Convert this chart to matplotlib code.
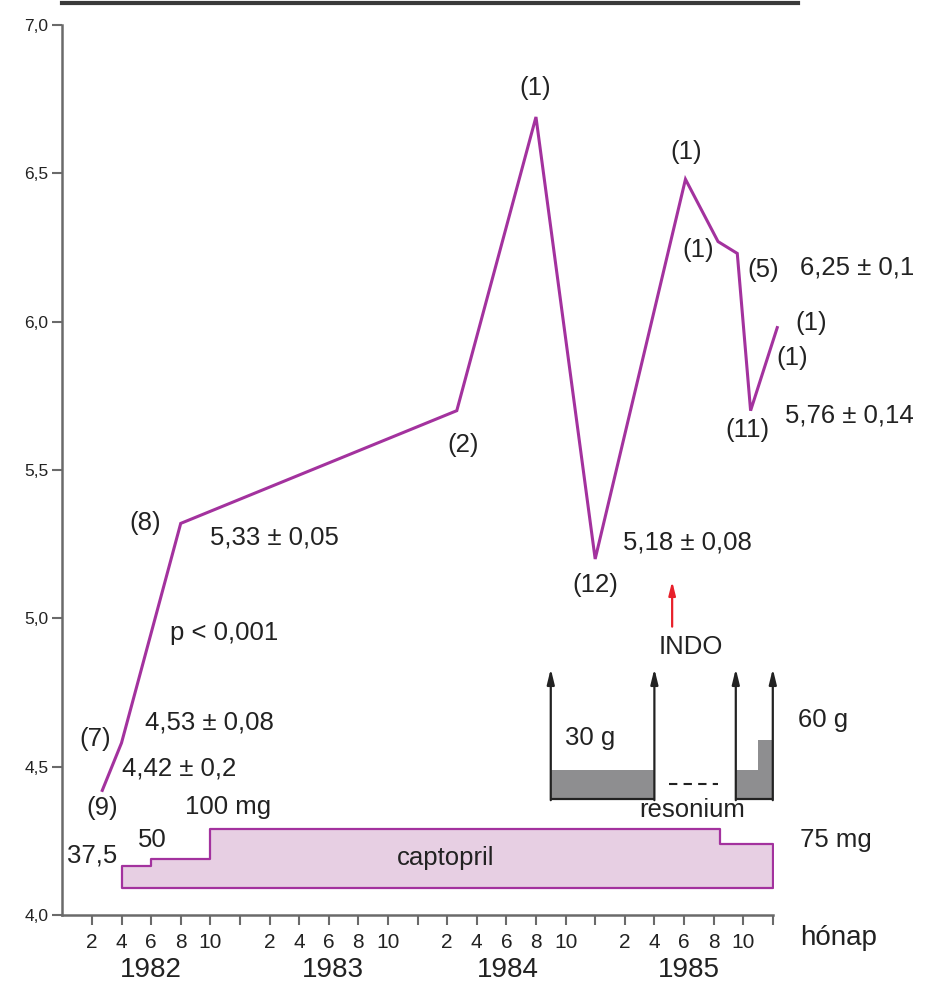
import matplotlib
matplotlib.use("Agg")
import matplotlib.pyplot as plt
from matplotlib.lines import Line2D
import numpy as np

# ---------------- data ----------------
# time axis: months counted from start of 1982 (month 2 of 1982 = 2, month 2 of 1983 = 14, ...)
k_months = [2.7, 4.0, 8.0, 26.65, 32.0, 36.0, 42.1, 44.3, 45.6, 46.5, 47.4, 48.3]
k_values = [4.42, 4.58, 5.32, 5.70, 6.69, 5.20, 6.48, 6.27, 6.23, 5.70, 5.84, 5.98]
k_counts = ["(9)", "(7)", "(8)", "(2)", "(1)", "(12)", "(1)", "(1)", "(5)", "(11)", "(1)", "(1)"]

capto_change = [4, 6, 10, 44.4, 48]          # months where captopril dose changes
capto_dose = [37.5, 50, 100, 75]              # mg
capto_labels = ["37,5", "50", "100 mg", "75 mg"]

reson_start = [33, 45.5, 47]
reson_end = [40, 47, 48]
reson_grams = [30, 30, 60]
reson_boxes = [(33, 40), (45.5, 48)]

indo_month = 41.2

stats_text = ["4,42 ± 0,2", "4,53 ± 0,08", "5,33 ± 0,05", "5,18 ± 0,08",
              "6,25 ± 0,1", "5,76 ± 0,14"]

yticks = [4.0, 4.5, 5.0, 5.5, 6.0, 6.5, 7.0]
ytick_labels = ["4,0", "4,5", "5,0", "5,5", "6,0", "6,5", "7,0"]
xticks = list(range(2, 49, 2))
month_labels = ["2", "4", "6", "8", "10", ""] * 4
years = ["1982", "1983", "1984", "1985"]
year_centers = [6, 18.3, 30.1, 42.3]

# ---------------- style ----------------
plt.rcParams['font.family'] = ['Liberation Sans', 'DejaVu Sans']
PURPLE = '#a3329e'
FILLPINK = '#e7cfe3'
GREY_AX = '#6a6a6a'
TXT = '#222222'
FS = 18.5

fig = plt.figure(figsize=(9.30, 9.85), dpi=100)
ax = fig.add_axes([62.3 / 930, 1 - 915 / 985, (772.8 - 62.3) / 930, (915 - 25) / 985])
ax.set_xlim(0, 48)
ax.set_ylim(4.0, 7.0)

for s in ['top', 'right']:
    ax.spines[s].set_visible(False)
for s in ['left', 'bottom']:
    ax.spines[s].set_color(GREY_AX)
    ax.spines[s].set_linewidth(1.8)

ax.set_yticks(yticks)
ax.set_yticklabels(ytick_labels, fontsize=12.5, color=TXT)
ax.set_xticks(xticks)
ax.set_xticklabels(month_labels, fontsize=15, color=TXT)
ax.tick_params(axis='both', direction='out', length=7, width=1.5, color=GREY_AX)
ax.tick_params(axis='x', pad=6)
ax.tick_params(axis='y', pad=3)

# top frame line
fig.add_artist(Line2D([62 / 930, 798 / 930], [1 - 2.5 / 985] * 2, color='#3a3a3a', lw=3))

# ---- captopril step area ----
BASE = 4.09
SCALE_MG = 0.002
cap_x = capto_change
cap_y = [BASE + d * SCALE_MG for d in capto_dose] + [BASE + capto_dose[-1] * SCALE_MG]
ax.fill_between(cap_x, BASE, cap_y, step='post', facecolor=FILLPINK,
                edgecolor=PURPLE, linewidth=1.6, zorder=2)

# ---- resonium ----
R_BASE = 4.39
R_SCALE = 0.1 / 30
R_TOP = 4.83
for s0, s1, g in zip(reson_start, reson_end, reson_grams):
    ax.fill_between([s0, s1], R_BASE, R_BASE + g * R_SCALE, facecolor='#8e8e90',
                    edgecolor='none', zorder=2)
for b0, b1 in reson_boxes:
    ax.plot([b0, b1], [R_BASE, R_BASE], color='#222222', lw=1.6, zorder=3,
            solid_capstyle='butt')
    for bx in (b0, b1):
        ax.annotate('', xy=(bx, R_TOP), xytext=(bx, R_BASE - 0.003),
                    arrowprops=dict(arrowstyle='-|>,head_length=0.9,head_width=0.22',
                                    color='#222222', lw=1.6, shrinkA=0, shrinkB=0),
                    zorder=3)
ax.plot([41.0, 44.3], [4.44, 4.44], color='#222222', lw=1.5, dashes=(4, 3))

# ---- INDO arrow ----
ax.annotate('', xy=(indo_month, 5.125), xytext=(indo_month, 4.972),
            arrowprops=dict(arrowstyle='-|>,head_length=0.8,head_width=0.2',
                            color='#e8202a', lw=1.6, shrinkA=0, shrinkB=0))

# ---- K+ line ----
ax.plot(k_months, k_values, color=PURPLE, lw=2.2, clip_on=False, zorder=4,
        solid_joinstyle='miter')

# ---- count labels ----
count_pos = [(2.68, 4.361), (2.22, 4.593), (5.59, 5.321), (27.07, 5.584),
             (31.94, 6.787), (36.0, 5.112), (42.14, 6.572), (42.95, 6.241),
             (47.34, 6.174), (46.26, 5.635), (49.3, 5.877), (50.59, 5.995)]
for lab, (px, py) in zip(k_counts, count_pos):
    ax.text(px, py, lab, ha='center', va='center', fontsize=FS, color=TXT, clip_on=False)

# ---- stats labels (left-aligned) ----
stats_pos = [(4.03, 4.495), (5.59, 4.650), (9.98, 5.274), (37.88, 5.257),
             (49.83, 6.181), (48.83, 5.685)]
for lab, (px, py) in zip(stats_text, stats_pos):
    ax.text(px, py, lab, ha='left', va='center', fontsize=FS, color=TXT, clip_on=False)

ax.text(7.28, 4.950, "p < 0,001", ha='left', va='center', fontsize=FS, color=TXT)

# captopril labels
ax.text(0.32, 4.202, capto_labels[0], ha='left', va='center', fontsize=FS, color=TXT)
ax.text(6.06, 4.253, capto_labels[1], ha='center', va='center', fontsize=FS, color=TXT)
ax.text(8.29, 4.364, capto_labels[2], ha='left', va='center', fontsize=FS, color=TXT)
ax.text(49.83, 4.253, capto_labels[3], ha='left', va='center', fontsize=FS, color=TXT, clip_on=False)
ax.text(25.93, 4.192, "captopril", ha='center', va='center', fontsize=FS, color=TXT, zorder=5)

# resonium labels
ax.text(33.97, 4.597, "30 g", ha='left', va='center', fontsize=FS, color=TXT)
ax.text(49.7, 4.657, "60 g", ha='left', va='center', fontsize=FS, color=TXT, clip_on=False)
ax.text(42.54, 4.354, "resonium", ha='center', va='center', fontsize=FS, color=TXT)
ax.text(42.47, 4.903, "INDO", ha='center', va='center', fontsize=FS, color=TXT)

# axis extra labels
ax.text(49.83, 3.922, "hónap", ha='left', va='center', fontsize=20, color=TXT, clip_on=False)
for yl, yc in zip(years, year_centers):
    ax.text(yc, 3.815, yl, ha='center', va='center', fontsize=20, color=TXT, clip_on=False)

fig.savefig("out.png", dpi=100)
